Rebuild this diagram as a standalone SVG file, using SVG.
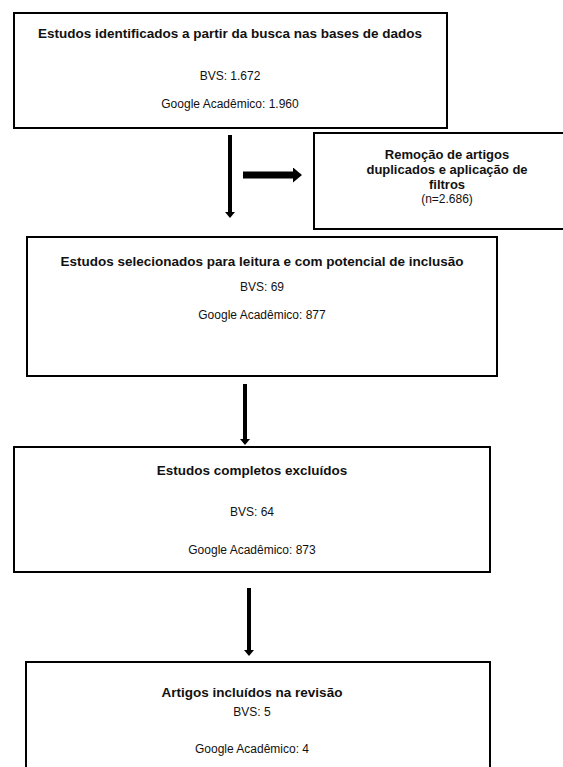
<svg xmlns="http://www.w3.org/2000/svg" width="563" height="767" viewBox="0 0 563 767">
<defs>
<style>
.box{fill:#fff;stroke:#000;stroke-width:2}
.t{font-family:"Liberation Sans",Arial,sans-serif;font-size:12px;fill:#111;text-anchor:middle}
.b{font-weight:bold;font-size:13.5px}
.r{font-size:13px}
.c{stroke:#000;fill:none}
</style>
<marker id="hsmall" markerUnits="userSpaceOnUse" viewBox="0 0 6 10" markerWidth="6" markerHeight="10" refX="0" refY="5" orient="auto">
<path d="M0,0 L6,5 L0,10 Z" fill="#000"/>
</marker>
<marker id="hbig" markerUnits="userSpaceOnUse" viewBox="0 0 9 15" markerWidth="9" markerHeight="15" refX="0" refY="7.5" orient="auto">
<path d="M0,0 L9,7.5 L0,15 Z" fill="#000"/>
</marker>
</defs>
<rect width="563" height="767" fill="#fff"/>
<g id="connectors">
<line class="c" x1="230" y1="135" x2="230" y2="212" stroke-width="4" marker-end="url(#hsmall)"/>
<line class="c" x1="243" y1="175" x2="293" y2="175" stroke-width="7" marker-end="url(#hbig)"/>
<line class="c" x1="245" y1="384" x2="245" y2="439" stroke-width="4" marker-end="url(#hsmall)"/>
<line class="c" x1="249" y1="588" x2="249" y2="650" stroke-width="4" marker-end="url(#hsmall)"/>
</g>
<g id="n1">
<rect class="box" x="14" y="13" width="433" height="115"/>
<text class="t b" x="230" y="38">Estudos identificados a partir da busca nas bases de dados</text>
<text class="t" x="230" y="80">BVS: 1.672</text>
<text class="t" x="230" y="108">Google Acadêmico: 1.960</text>
</g>
<g id="n2">
<rect class="box" x="314" y="133" width="260" height="96"/>
<text class="t b r" x="447" y="159">Remoção de artigos</text>
<text class="t b r" x="447" y="174">duplicados e aplicação de</text>
<text class="t b r" x="447" y="189">filtros</text>
<text class="t" x="447" y="203">(n=2.686)</text>
</g>
<g id="n3">
<rect class="box" x="27" y="237" width="470" height="139"/>
<text class="t b" x="262" y="266">Estudos selecionados para leitura e com potencial de inclusão</text>
<text class="t" x="262" y="291">BVS: 69</text>
<text class="t" x="262" y="319">Google Acadêmico: 877</text>
</g>
<g id="n4">
<rect class="box" x="14" y="447" width="476" height="125"/>
<text class="t b" x="252" y="475">Estudos completos excluídos</text>
<text class="t" x="252" y="516">BVS: 64</text>
<text class="t" x="252" y="554">Google Acadêmico: 873</text>
</g>
<g id="n5">
<rect class="box" x="26" y="662" width="464" height="115"/>
<text class="t b" x="252" y="697">Artigos incluídos na revisão</text>
<text class="t" x="252" y="716">BVS: 5</text>
<text class="t" x="252" y="753">Google Acadêmico: 4</text>
</g>
</svg>
